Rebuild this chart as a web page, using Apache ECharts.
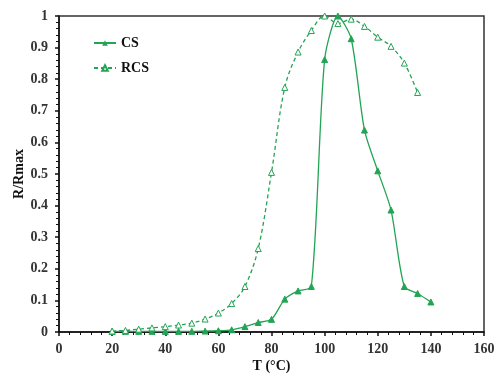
<!DOCTYPE html>
<html><head><meta charset="utf-8">
<script src="https://cdn.jsdelivr.net/npm/echarts@6/dist/echarts.min.js"></script>
<style>html,body{margin:0;padding:0;background:#fff}#c{width:494px;height:374px}</style>
</head><body><div id="c"></div>
<script>
var temps = [20,25,30,35,40,45,50,55,60,65,70,75,80,85,90,95,100,105,110,115,120,125,130,135,140];
var csVals = [0.002,0.002,0.002,0.002,0.002,0.002,0.002,0.003,0.004,0.007,0.017,0.03,0.04,0.104,0.13,0.144,0.862,1.0,0.928,0.639,0.51,0.386,0.144,0.122,0.095];
var rcsTemps = [20,25,30,35,40,45,50,55,60,65,70,75,80,85,90,95,100,105,110,115,120,125,130,135];
var rcsVals = [0.003,0.005,0.009,0.013,0.017,0.022,0.028,0.041,0.06,0.09,0.144,0.264,0.505,0.774,0.886,0.954,1.0,0.976,0.99,0.967,0.933,0.904,0.851,0.758];
var xTicks = [0,20,40,60,80,100,120,140,160];
var yTicks = [0,0.1,0.2,0.3,0.4,0.5,0.6,0.7,0.8,0.9,1];

function pairs(xs, ys){ return xs.map(function(x,i){return [x, ys[i]];}); }
var green = '#23a455';
var font = '"Liberation Serif","Times New Roman",serif';
var chart = echarts.init(document.getElementById('c'));
chart.setOption({
  animation:false,
  grid:{left:59,right:10,top:16,bottom:42,containLabel:false,outerBoundsMode:'none',
    show:true,borderColor:'#333',borderWidth:1.5,backgroundColor:'transparent'},
  legend:{
    left:88, top:31, orient:'vertical', itemGap:11, itemWidth:22, itemHeight:7,
    textStyle:{fontFamily:font,fontWeight:'bold',fontSize:14,color:'#111'},
    data:['CS','RCS']
  },
  xAxis:{
    type:'value', min:0, max:160, interval:20,
    name:'T (°C)', nameLocation:'middle', nameGap:27, nameMoveOverlap:false,
    nameTextStyle:{fontFamily:font,fontWeight:'bold',fontSize:14,color:'#111'},
    axisLine:{lineStyle:{color:'#111',width:1.5}},
    axisTick:{inside:false,length:4,lineStyle:{color:'#111',width:1.5}},
    minorTick:{show:true,splitNumber:5,length:3,lineStyle:{color:'#111'}},
    splitLine:{show:false},
    axisLabel:{fontFamily:font,fontWeight:'bold',fontSize:14,color:'#333',margin:10,
      formatter:function(v){return xTicks.indexOf(v)>=0?String(v):'';}}
  },
  yAxis:{
    type:'value', min:0, max:1, interval:0.1,
    name:'R/Rmax', nameLocation:'middle', nameGap:33, nameMoveOverlap:false,
    nameTextStyle:{fontFamily:font,fontWeight:'bold',fontSize:14,color:'#111'},
    axisLine:{lineStyle:{color:'#111',width:1.5}},
    axisTick:{inside:false,length:4,lineStyle:{color:'#111',width:1.5}},
    minorTick:{show:true,splitNumber:5,length:3,lineStyle:{color:'#111'}},
    splitLine:{show:false},
    axisLabel:{fontFamily:font,fontWeight:'bold',fontSize:14,color:'#333',margin:11,
      formatter:function(v){var r=Math.round(v*10)/10; return r===0?'0':(r===1?'1':String(r));}}
  },
  series:[
    {name:'CS',type:'line',data:pairs(temps,csVals),smooth:0.25,
     symbol:'triangle',symbolSize:6,
     lineStyle:{color:green,width:1.3},
     itemStyle:{color:green,borderColor:green}},
    {name:'RCS',type:'line',data:pairs(rcsTemps,rcsVals),smooth:0.35,
     symbol:'triangle',symbolSize:6,
     lineStyle:{color:green,width:1.3,type:[4,3]},
     itemStyle:{color:'#fff',borderColor:green,borderWidth:1}}
  ]
});
</script></body></html>
